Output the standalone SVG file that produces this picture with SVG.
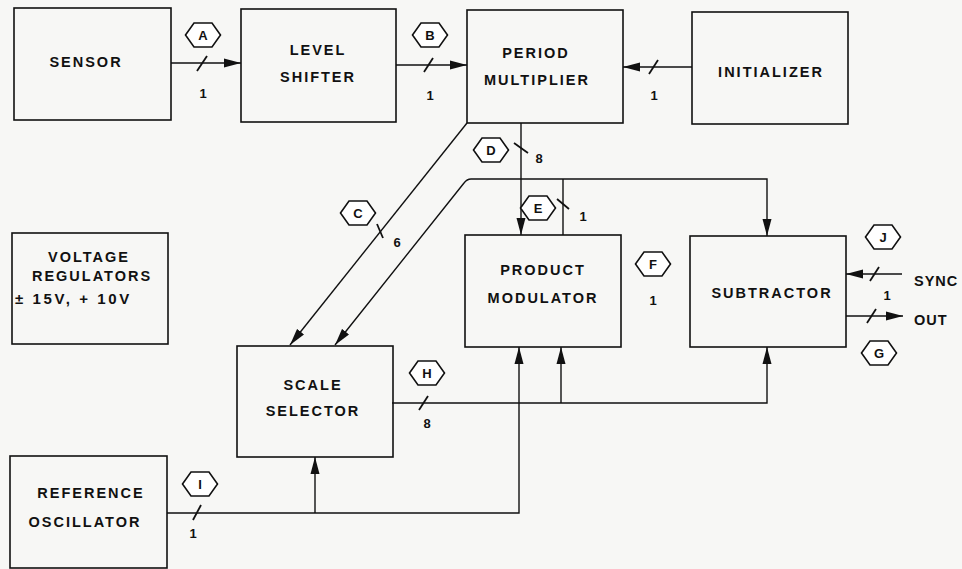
<svg xmlns="http://www.w3.org/2000/svg" width="962" height="569" viewBox="0 0 962 569">
<style>
.box{fill:none;stroke:#111;stroke-width:1.6}
.ln{fill:none;stroke:#111;stroke-width:1.4}
.sl{fill:none;stroke:#111;stroke-width:1.8}
.hex{fill:#fff;stroke:#111;stroke-width:1.6}
text{font-family:"Liberation Sans",Arial,sans-serif;font-weight:bold;fill:#111;text-anchor:middle;dominant-baseline:central}
.t{font-size:14.5px;letter-spacing:2px}
.s{text-anchor:start}
.h{font-size:13px}
.n{font-size:13px}
</style>
<defs>
<marker id="ar" markerUnits="userSpaceOnUse" markerWidth="17" markerHeight="10" refX="17" refY="5" orient="auto">
<path d="M0,0.5 L17,5 L0,9.5 z" fill="#111"/>
</marker>
<polygon id="hx" points="-17.5,0 -9,-12 9,-12 17.5,0 9,12 -9,12"/>
</defs>
<rect width="962" height="569" fill="#f7f7f5"/>

<g id="connectors">
<path class="ln" d="M171,63 H241" marker-end="url(#ar)"/>
<path class="ln" d="M396,65 H467" marker-end="url(#ar)"/>
<path class="ln" d="M692,67 H623" marker-end="url(#ar)"/>
<path class="ln" d="M521,123 V235" marker-end="url(#ar)"/>
<path class="ln" d="M467,123 L290,345" marker-end="url(#ar)"/>
<path class="ln" d="M563,235 V179"/>
<path class="ln" d="M563,179 H767 V236" marker-end="url(#ar)"/>
<path class="ln" d="M563,179 H471 Q467,179 464,183 L335,345" marker-end="url(#ar)"/>
<path class="ln" d="M167,513 H519 V347" marker-end="url(#ar)"/>
<path class="ln" d="M315,513 V457" marker-end="url(#ar)"/>
<path class="ln" d="M392,403 H767 V347" marker-end="url(#ar)"/>
<path class="ln" d="M561,403 V347" marker-end="url(#ar)"/>
<path class="ln" d="M902,274 H846" marker-end="url(#ar)"/>
<path class="ln" d="M846,316 H903" marker-end="url(#ar)"/>
<!-- bus slashes -->
<path class="sl" d="M197,71 L207,56"/>
<path class="sl" d="M424,72 L433,58"/>
<path class="sl" d="M649,74 L658,60"/>
<path class="sl" d="M514,143 L528,153"/>
<path class="sl" d="M377,224 L383,238"/>
<path class="sl" d="M557,199 L569,209"/>
<path class="sl" d="M870,281 L879,267"/>
<path class="sl" d="M867,323 L876,309"/>
<path class="sl" d="M419,410 L428,396"/>
<path class="sl" d="M193,520 L201,505"/>
<!-- bus widths -->
<text class="n" x="203" y="93">1</text>
<text class="n" x="430" y="95">1</text>
<text class="n" x="654" y="95">1</text>
<text class="n" x="539" y="158">8</text>
<text class="n" x="397" y="242">6</text>
<text class="n" x="583" y="216">1</text>
<text class="n" x="653" y="300">1</text>
<text class="n" x="887" y="295">1</text>
<text class="n" x="427" y="423">8</text>
<text class="n" x="193" y="533">1</text>
<!-- signal tags -->
<g id="tag-A"><use href="#hx" class="hex" x="203" y="35"/><text class="h" x="203" y="35">A</text></g>
<g id="tag-B"><use href="#hx" class="hex" x="430" y="35"/><text class="h" x="430" y="35">B</text></g>
<g id="tag-C"><use href="#hx" class="hex" x="358" y="213"/><text class="h" x="358" y="213">C</text></g>
<g id="tag-D"><use href="#hx" class="hex" x="491" y="150"/><text class="h" x="491" y="150">D</text></g>
<g id="tag-E"><use href="#hx" class="hex" x="538" y="208"/><text class="h" x="538" y="208">E</text></g>
<g id="tag-F"><use href="#hx" class="hex" x="653" y="264"/><text class="h" x="653" y="264">F</text></g>
<g id="tag-G"><use href="#hx" class="hex" x="879" y="353"/><text class="h" x="879" y="353">G</text></g>
<g id="tag-H"><use href="#hx" class="hex" x="427" y="373"/><text class="h" x="427" y="373">H</text></g>
<g id="tag-I"><use href="#hx" class="hex" x="200" y="484"/><text class="h" x="200" y="484">I</text></g>
<g id="tag-J"><use href="#hx" class="hex" x="883" y="237"/><text class="h" x="883" y="237">J</text></g>
<text class="t s" x="914" y="281" style="letter-spacing:1px">SYNC</text>
<text class="t s" x="914" y="320" style="letter-spacing:1px">OUT</text>
</g>

<g id="sensor"><rect class="box" x="14" y="8" width="157" height="112"/><text class="t" x="86" y="62">SENSOR</text></g>
<g id="level-shifter"><rect class="box" x="241" y="9" width="155" height="113"/><text class="t" x="318" y="50">LEVEL</text><text class="t" x="318" y="77">SHIFTER</text></g>
<g id="period-multiplier"><rect class="box" x="467" y="10" width="156" height="113"/><text class="t" x="536" y="53">PERIOD</text><text class="t" x="537" y="80">MULTIPLIER</text></g>
<g id="initializer"><rect class="box" x="692" y="12" width="156" height="112"/><text class="t" x="771" y="72">INITIALIZER</text></g>
<g id="voltage-regulators"><rect class="box" x="12" y="233" width="156" height="111"/><text class="t" x="89" y="257">VOLTAGE</text><text class="t" x="92" y="276">REGULATORS</text><text class="t s" x="15" y="298" style="font-size:15px;letter-spacing:2.6px">± 15V, + 10V</text></g>
<g id="product-modulator"><rect class="box" x="465" y="235" width="156" height="112"/><text class="t" x="543" y="270">PRODUCT</text><text class="t" x="543" y="298">MODULATOR</text></g>
<g id="subtractor"><rect class="box" x="690" y="236" width="156" height="111"/><text class="t" x="772" y="293">SUBTRACTOR</text></g>
<g id="scale-selector"><rect class="box" x="237" y="346" width="156" height="111"/><text class="t" x="313" y="385">SCALE</text><text class="t" x="313" y="411">SELECTOR</text></g>
<g id="reference-oscillator"><rect class="box" x="10" y="456" width="157" height="112"/><text class="t" x="91" y="493">REFERENCE</text><text class="t" x="85" y="522">OSCILLATOR</text></g>
</svg>
